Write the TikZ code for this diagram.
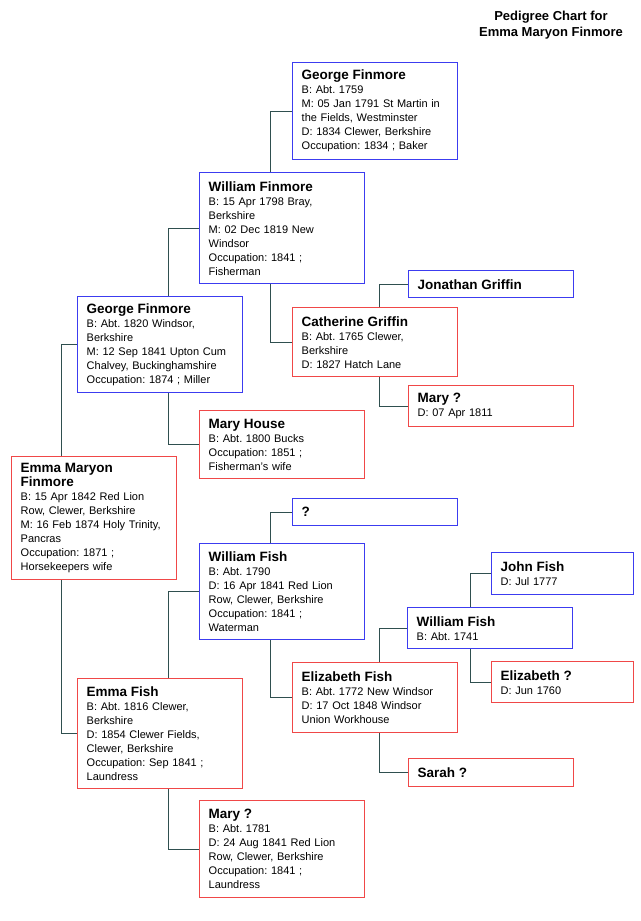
\documentclass[tikz,border=0pt]{standalone}
\usepackage{fontspec}
\setmainfont{Liberation Sans}
\usepackage{tikz}
\usetikzlibrary{calc}
\frenchspacing
\definecolor{maleC}{HTML}{3C3CF0}
\definecolor{femaleC}{HTML}{F04848}
\definecolor{linkC}{HTML}{2F4F4F}
\newcommand{\pname}[1]{{\fontsize{13.5}{15}\selectfont\bfseries #1}}
\tikzset{
  pbox/.style  ={draw=#1, line width=1.4pt, fill=white, anchor=north west, align=left,
                 text width=147pt, inner xsep=9pt, inner ysep=0pt,
                 font=\fontsize{11}{14}\selectfont},
  male/.style  ={pbox=maleC},
  female/.style={pbox=femaleC},
  narrow/.style={text width=124pt},
  link/.style  ={draw=linkC, line width=1pt},
}

\begin{document}
\begin{tikzpicture}[x=1pt, y=-1pt]
  \useasboundingbox[fill=white] (0,0) rectangle (640,921);
  \node[font=\fontsize{13}{16}\selectfont\bfseries, align=center, anchor=north, inner sep=0pt]
    (title) at (551,11) {Pedigree Chart for\\Emma Maryon Finmore};
  \node[female, minimum height=123] (emmaM) at (11,456)
    {\pname{Emma Maryon\\Finmore}\\B: 15 Apr 1842 Red Lion\\Row, Clewer, Berkshire\\M: 16 Feb 1874 Holy Trinity,\\Pancras\\Occupation: 1871 ;\\Horsekeepers wife};
  \node[male, minimum height=96] (georgeF) at (77,296)
    {\pname{George Finmore}\\B: Abt. 1820 Windsor,\\Berkshire\\M: 12 Sep 1841 Upton Cum\\Chalvey, Buckinghamshire\\Occupation: 1874 ; Miller};
  \node[female, minimum height=110] (emmaF) at (77,678)
    {\pname{Emma Fish}\\B: Abt. 1816 Clewer,\\Berkshire\\D: 1854 Clewer Fields,\\Clewer, Berkshire\\Occupation: Sep 1841 ;\\Laundress};
  \node[male, minimum height=111] (williamF) at (199,172)
    {\pname{William Finmore}\\B: 15 Apr 1798 Bray,\\Berkshire\\M: 02 Dec 1819 New\\Windsor\\Occupation: 1841 ;\\Fisherman};
  \node[female, minimum height=68] (maryH) at (199,410)
    {\pname{Mary House}\\B: Abt. 1800 Bucks\\Occupation: 1851 ;\\Fisherman's wife};
  \node[male, minimum height=96] (williamFi) at (199,543)
    {\pname{William Fish}\\B: Abt. 1790\\D: 16 Apr 1841 Red Lion\\Row, Clewer, Berkshire\\Occupation: 1841 ;\\Waterman};
  \node[female, minimum height=97] (maryQb) at (199,800)
    {\pname{Mary ?}\\B: Abt. 1781\\D: 24 Aug 1841 Red Lion\\Row, Clewer, Berkshire\\Occupation: 1841 ;\\Laundress};
  \node[male, minimum height=97] (georgeFsr) at (292,62)
    {\pname{George Finmore}\\B: Abt. 1759\\M: 05 Jan 1791 St Martin in\\the Fields, Westminster\\D: 1834 Clewer, Berkshire\\Occupation: 1834 ; Baker};
  \node[female, minimum height=69] (catherineG) at (292,307)
    {\pname{Catherine Griffin}\\B: Abt. 1765 Clewer,\\Berkshire\\D: 1827 Hatch Lane};
  \node[male, minimum height=27] (unknownF) at (292,498) {\pname{?}};
  \node[female, minimum height=70] (elizabethF) at (292,662)
    {\pname{Elizabeth Fish}\\B: Abt. 1772 New Windsor\\D: 17 Oct 1848 Windsor\\Union Workhouse};
  \node[male, minimum height=27] (jonathanG) at (408,270) {\pname{Jonathan Griffin}};
  \node[female, minimum height=41] (maryQ) at (408,385) {\pname{Mary ?}\\D: 07 Apr 1811};
  \node[male, minimum height=41] (williamFisr) at (407,607) {\pname{William Fish}\\B: Abt. 1741};
  \node[female, minimum height=28] (sarahQ) at (408,758) {\pname{Sarah ?}};
  \node[male, narrow, minimum height=42] (johnF) at (491,552) {\pname{John Fish}\\D: Jul 1777};
  \node[female, narrow, minimum height=41] (elizabethQ) at (491,661) {\pname{Elizabeth ?}\\D: Jun 1760};
  \foreach \kid/\dx/\dad/\mum in {emmaM/50/georgeF/emmaF, georgeF/91/williamF/maryH,
      emmaF/91/williamFi/maryQb, williamF/71/georgeFsr/catherineG,
      williamFi/71/unknownF/elizabethF, catherineG/87/jonathanG/maryQ,
      elizabethF/87/williamFisr/sarahQ, williamFisr/63/johnF/elizabethQ}{
    \draw[link] ($(\kid.north west)+(\dx,0)$) |- (\dad.west);
    \draw[link] ($(\kid.south west)+(\dx,0)$) |- (\mum.west);
  }
\end{tikzpicture}
\end{document}
